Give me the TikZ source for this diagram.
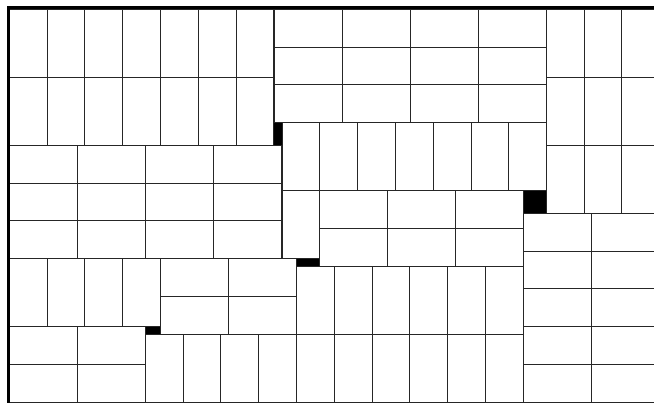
\documentclass[tikz,border=0pt]{standalone}
\tikzset{
  tile/.style={draw=black!85, fill=white, line width=0.9pt},
  gapfill/.style={fill=black, draw=none},
  edgebar/.style={fill=black, draw=none}
}
\newcommand\tblock[6]{%
  \foreach \ii in {1,...,#5}{%
    \foreach \jj in {1,...,#6}{%
      \draw[tile] ({#1+(\ii-1)*#3},{#2+(\jj-1)*#4}) rectangle ++(#3,#4);
    }%
  }%
}
\begin{document}
\begin{tikzpicture}[x=1pt,y=-1pt]
\useasboundingbox (0,0) rectangle (654,403);
\fill[white] (0,0) rectangle (654,403);
\begin{scope}
\clip (0,0) rectangle (654,403);
% gaps
\fill[gapfill] (273,122.7) rectangle (283,146.3);
\fill[gapfill] (523.3,190) rectangle (547,214.3);
\fill[gapfill] (296,258) rectangle (320.3,267.3);
\fill[gapfill] (145,326) rectangle (161,335.3);
% blocks: x0, y0, w, h, ncols, nrows
\def\s{37.8}
\def\l{68}
\tblock{9.3}{9.3}{\s}{\l}{7}{2}     % A
\tblock{274}{9.3}{\l}{\s}{4}{3}     % B
\tblock{282}{122.7}{\s}{\l}{7}{1}   % C
\tblock{282}{190.7}{\s}{\l}{1}{1}   % C2
\tblock{319.8}{190.7}{\l}{\s}{3}{2} % D
\tblock{546.3}{9.3}{\s}{\l}{3}{3}   % E
\tblock{523.5}{213.3}{\l}{\s}{2}{5} % F
\tblock{296.5}{266.3}{\s}{\l}{6}{2} % G1
\tblock{9.3}{145.3}{\l}{\s}{4}{3}   % H
\tblock{9.3}{258.7}{\s}{\l}{4}{1}   % I
\tblock{160.5}{258.7}{\l}{\s}{2}{2} % J
\tblock{145.3}{334.3}{\s}{\l}{4}{1} % G2
\tblock{9.3}{326.7}{\l}{\s}{2}{2}   % K
% borders
\fill[edgebar] (6.5,6.5) rectangle (9.5,403);
\fill[edgebar] (6.5,6.5) rectangle (654,9.5);
\end{scope}
\end{tikzpicture}
\end{document}
